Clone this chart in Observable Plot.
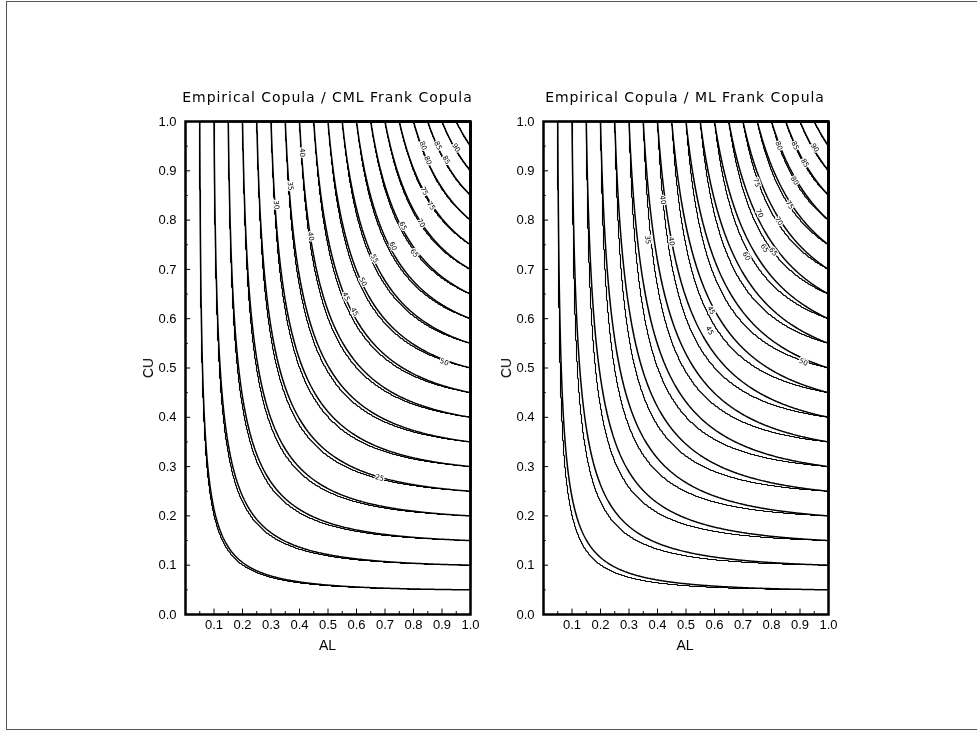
<!DOCTYPE html>
<html><head><meta charset="utf-8">
<script src="https://cdn.jsdelivr.net/npm/d3@7"></script>
<script src="https://cdn.jsdelivr.net/npm/@observablehq/plot@0.6"></script>
<style>
body{margin:0;background:#fff;overflow:hidden}
#page{position:relative;width:977px;height:733px;overflow:hidden;background:#fff}
#border{position:absolute;left:6px;top:1px;width:1000px;height:729px;border:1px solid #555;box-sizing:border-box}
.title{position:absolute;font-family:"DejaVu Sans",sans-serif;font-size:14px;letter-spacing:0.95px;white-space:nowrap;transform:translate(-50%,-50%);color:#000}
.xl{position:absolute;font-family:"Liberation Sans",sans-serif;font-size:14px;transform:translate(-50%,-50%);color:#000}
.yl{position:absolute;font-family:"Liberation Sans",sans-serif;font-size:14px;transform:translate(-50%,-50%) rotate(-90deg);color:#000}
.panel{position:absolute;top:70px;will-change:transform}
.panel svg g[aria-label="x-axis tick label"] text, .panel svg g[aria-label="y-axis tick label"] text{font-size:13px}
</style></head>
<body><div id="page"><div id="border"></div></div>
<script>
// ---- data ----
const levels = [0.05,0.10,0.15,0.20,0.25,0.30,0.35,0.40,0.45,0.50,0.55,0.60,0.65,0.70,0.75,0.80,0.85,0.90,0.95];
const xTicks = [0.1,0.2,0.3,0.4,0.5,0.6,0.7,0.8,0.9,1.0];
const yTicks = [0.0,0.1,0.2,0.3,0.4,0.5,0.6,0.7,0.8,0.9,1.0];
const minorTicks = [0.05,0.15,0.25,0.35,0.45,0.55,0.65,0.75,0.85,0.95];
const titles = ["Empirical Copula / CML Frank Copula", "Empirical Copula / ML Frank Copula"];
const xLabel = "AL";
const yLabel = "CU";
// dependence parameters (estimated from where the contours sit)
const thetaEmpirical = 3.8;
const thetaCML = 3.5;
const thetaML = 3.0;
// contour labels (level in %, position u, v)
const cmlLabelText = ["25","30","35","40","40","45","45","50","50","55","60","65","65","70","75","75","80","80","85","85","90"];
const cmlLabelU = [0.681,0.319,0.368,0.410,0.440,0.563,0.593,0.623,0.908,0.663,0.728,0.763,0.803,0.827,0.838,0.862,0.834,0.850,0.886,0.915,0.950];
const cmlLabelV = [0.277,0.831,0.869,0.937,0.767,0.645,0.614,0.675,0.512,0.722,0.747,0.788,0.733,0.794,0.859,0.829,0.951,0.921,0.951,0.922,0.947];
const mlLabelText = ["35","40","40","45","45","50","60","65","65","70","70","75","75","80","80","85","85","90"];
const mlLabelU = [0.366,0.419,0.449,0.589,0.583,0.912,0.712,0.776,0.806,0.758,0.826,0.748,0.864,0.881,0.826,0.883,0.917,0.952];
const mlLabelV = [0.760,0.841,0.757,0.617,0.576,0.512,0.727,0.743,0.736,0.814,0.798,0.876,0.831,0.880,0.951,0.951,0.916,0.947];

// ---- drawing ----
function frank(u, v, t) {
  const a = Math.expm1(-t * u), b = Math.expm1(-t * v), c = Math.expm1(-t);
  return -Math.log1p(a * b / c) / t;
}
const W = 400, H = 620, mL = 85, mR = 30, mT = 51, mB = 76;
const pxX = W - mL - mR, pxY = H - mT - mB;

function labelRows(texts, us, vs, t) {
  return texts.map((s, i) => {
    const u = us[i], v = vs[i], h = 1e-4;
    const cu = (frank(u + h, v, t) - frank(u - h, v, t)) / (2 * h);
    const cv = (frank(u, v + h, t) - frank(u, v - h, t)) / (2 * h);
    const r = Math.atan2(cu * pxY, cv * pxX) * 180 / Math.PI;
    return {u, v, s, r};
  });
}

function panel(thetaModel, texts, us, vs) {
  return Plot.plot({
    width: W, height: H, marginLeft: mL, marginRight: mR, marginTop: mT, marginBottom: mB,
    x: {domain: [0, 1]}, y: {domain: [0, 1]},
    style: {fontFamily: "Liberation Sans", fontSize: "13px", background: "transparent", color: "black"},
    marks: [
      Plot.contour({value: (x, y) => frank(x, y, thetaEmpirical), x1: 0, x2: 1, y1: 0, y2: 1,
        thresholds: levels, stroke: "black", fill: "none", strokeWidth: 1.1, smooth: false, pixelSize: 1}),
      Plot.contour({value: (x, y) => frank(x, y, thetaModel), x1: 0, x2: 1, y1: 0, y2: 1,
        thresholds: levels, stroke: "black", fill: "none", strokeWidth: 1.5, pixelSize: 1}),
      Plot.text(labelRows(texts, us, vs, thetaModel), {x: "u", y: "v", text: "s", rotate: "r",
        fontSize: 7, fill: "black", stroke: "white", strokeWidth: 2.5, fontFamily: "DejaVu Sans"}),
      Plot.ruleX(xTicks, {x: d => d, y1: 0, y2: 0.011, stroke: "black", strokeWidth: 1}),
      Plot.ruleX(minorTicks, {x: d => d, y1: 0, y2: 0.006, stroke: "black", strokeWidth: 1}),
      Plot.ruleY(yTicks, {y: d => d, x1: 0, x2: 0.018, stroke: "black", strokeWidth: 1}),
      Plot.ruleY(minorTicks, {y: d => d, x1: 0, x2: 0.01, stroke: "black", strokeWidth: 1}),
      Plot.axisX(xTicks, {tickSize: 0, tickPadding: 5, tickFormat: d3.format(".1f"), label: null, fontSize: 13, fill: "black"}),
      Plot.axisY(yTicks, {tickSize: 0, tickPadding: 9, tickFormat: d3.format(".1f"), label: null, fontSize: 13, fill: "black"}),
      Plot.frame({stroke: "black", strokeWidth: 2.5})
    ]
  });
}

const page = document.getElementById("page");
const lefts = [100, 457.5];
const models = [thetaCML, thetaML];
const labs = [[cmlLabelText, cmlLabelU, cmlLabelV], [mlLabelText, mlLabelU, mlLabelV]];
lefts.forEach((lx, i) => {
  const div = document.createElement("div");
  div.className = "panel";
  div.style.left = lx + "px";
  div.appendChild(panel(models[i], ...labs[i]));
  page.appendChild(div);
  const cx = lx + mL + pxX / 2;
  const t = document.createElement("div"); t.className = "title"; t.textContent = titles[i];
  t.style.left = cx + "px"; t.style.top = "97px"; page.appendChild(t);
  const xl = document.createElement("div"); xl.className = "xl"; xl.textContent = xLabel;
  xl.style.left = cx + "px"; xl.style.top = "645px"; page.appendChild(xl);
  const yl = document.createElement("div"); yl.className = "yl"; yl.textContent = yLabel;
  yl.style.left = (lx + 48) + "px"; yl.style.top = "368px"; page.appendChild(yl);
});
</script>
</body></html>
